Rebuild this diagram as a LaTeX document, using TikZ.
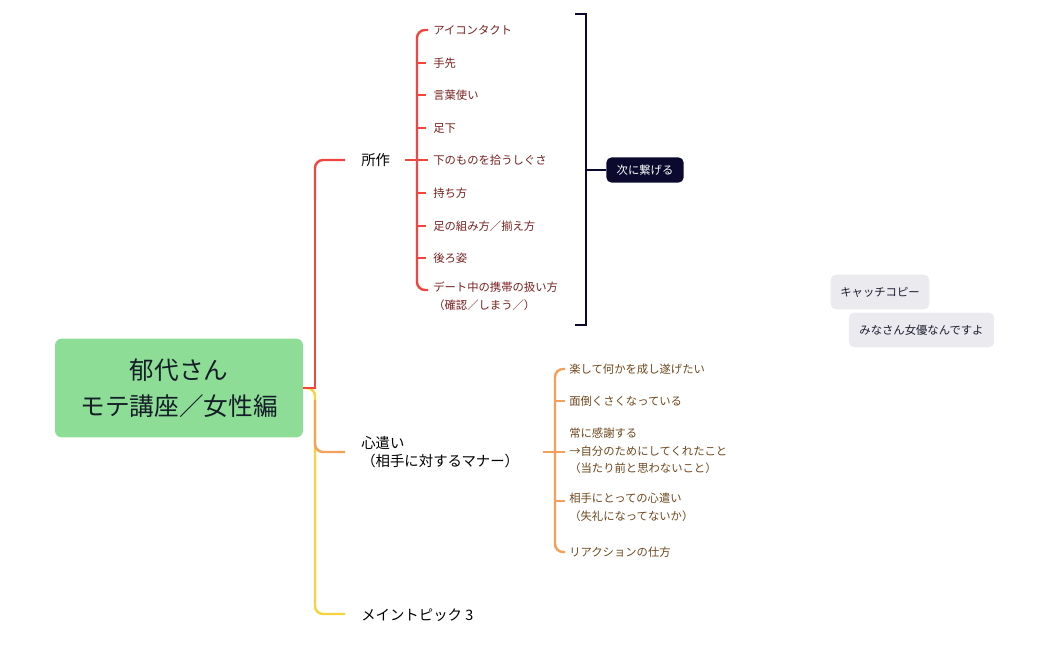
\documentclass[tikz,border=0pt]{standalone}
\usepackage{fontspec}
\setmainfont{Noto Sans CJK JP}
\begin{document}
\begin{tikzpicture}[x=0.75pt,y=-0.75pt,
  redc/.style={draw={rgb,255:red,240;green,70;blue,63},line width=1.8pt,rounded corners=6pt},
  orc/.style={draw={rgb,255:red,245;green,160;blue,90},line width=1.8pt,rounded corners=6pt},
  yec/.style={draw={rgb,255:red,245;green,211;blue,59},line width=1.8pt,rounded corners=6pt},
  navc/.style={draw={rgb,255:red,11;green,10;blue,46},line width=1.3pt},
  topic/.style={anchor=west,align=left,font=\fontsize{10.8pt}{13.5pt}\selectfont,inner sep=0pt},
  rsub/.style={anchor=west,align=left,text={rgb,255:red,120;green,30;blue,30},font=\fontsize{8.5pt}{13pt}\selectfont,inner sep=0pt},
  osub/.style={anchor=west,align=left,text={rgb,255:red,110;green,72;blue,30},font=\fontsize{8.5pt}{13pt}\selectfont,inner sep=0pt},
  grey/.style={fill={rgb,255:red,235;green,234;blue,238},rounded corners=4pt,font=\fontsize{8.5pt}{10pt}\selectfont,text={rgb,255:red,30;green,30;blue,50}}]
\useasboundingbox (0,0) rectangle (1050,649);
\node[fill={rgb,255:red,142;green,221;blue,150},rounded corners=5pt,minimum width=186pt,minimum height=74pt,align=center,font=\fontsize{18.5pt}{27pt}\selectfont,text={rgb,255:red,20;green,30;blue,40}] (root) at (179,388) {郁代さん\\モテ講座／女性編};
\node[topic] (t1) at (361,160) {所作};
\node[topic] (t2) at (361,452) {心遣い\\（相手に対するマナー）};
\node[topic] (t3) at (361,615) {メイントピック 3};
\coordinate (j) at (303,388);
\draw[yec] (j) -- (315,388) |- (345,614);
\draw[orc] (315,400) |- (345,452);
\draw[redc,rounded corners=0pt] (j) -- (315,388) -- (315,170);
\draw[redc] (315,200) |- (345,160);
% red children
\foreach \n/\y/\t in {a/30/アイコンタクト,b/63/手先,c/95/言葉使い,d/128/足下,e/160/下のものを拾うしぐさ,f/193/持ち方,g/226/足の組み方／揃え方,h/258/後ろ姿}
  \node[rsub] (r\n) at (433,\y) {\t};
\node[rsub,anchor=north west] (ri) at (433,282) {デート中の携帯の扱い方\\（確認／しまう／）};
\draw[redc] (405,160) -- (428,160);
\draw[redc] (428,30) -- (417,30) -- (417,290) -- (428,290);
\foreach \n in {b,c,d,f,g,h} \draw[redc] (417,0|-r\n.west) -- ([xshift=-5pt]r\n.west);
% bracket
\draw[navc] (575,14) -- (586,14) -- (586,325) -- (575,325);
\node[fill={rgb,255:red,11;green,10;blue,46},text=white,rounded corners=4pt,minimum width=58pt,minimum height=19pt,font=\fontsize{8.5pt}{10pt}\selectfont] (nx) at (645,170) {次に繋げる};
\draw[navc] (586,170) -- (nx.west);
% orange children
\node[osub] (o1) at (569,369) {楽して何かを成し遂げたい};
\node[osub] (o2) at (569,401) {面倒くさくなっている};
\node[osub] (o3) at (569,451) {常に感謝する\\→自分のためにしてくれたこと\\（当たり前と思わないこと）};
\node[osub,anchor=north west] (o4) at (569,493) {相手にとっての心遣い\\（失礼になってないか）};
\node[osub] (o5) at (569,552) {リアクションの仕方};
\draw[orc] (543,452) -- (565,452);
\draw[orc] (565,369) -- (555,369) -- (555,552) -- (565,552);
\draw[orc] (555,401) -- (565,401);
\draw[orc] (555,501) -- (565,501);
% floating
\node[grey,minimum width=74pt,minimum height=26pt] (f1) at (880,292) {キャッチコピー};
\node[grey,minimum width=109pt,minimum height=26pt] (f2) at (921.5,330) {みなさん女優なんですよ};
\end{tikzpicture}
\end{document}
